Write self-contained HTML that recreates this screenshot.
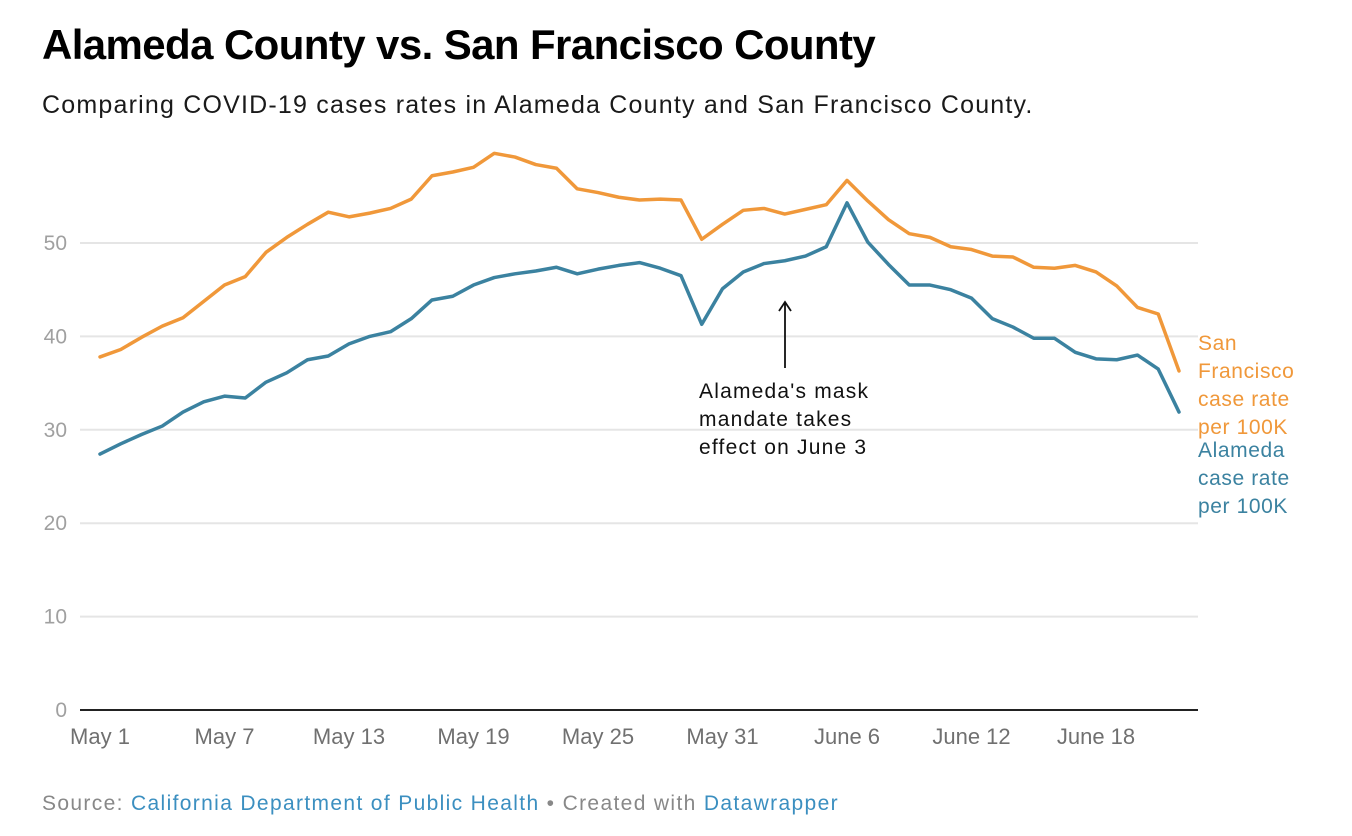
<!DOCTYPE html>
<html><head><meta charset="utf-8"><style>
body{margin:0;background:#fff;width:1352px;height:836px;overflow:hidden;font-family:"Liberation Sans",sans-serif}
.t{position:absolute;left:42px;top:21px;font-size:42px;font-weight:bold;color:#000;letter-spacing:-0.6px}
.s{position:absolute;left:42px;top:91px;font-size:25px;color:#1a1a1a;letter-spacing:1.2px}
.src{position:absolute;left:42px;top:792px;font-size:21px;color:#888;letter-spacing:1.35px}
.src span{color:#3b8fc0}
svg{position:absolute;left:0;top:0}
</style></head><body>
<div class="t">Alameda County vs. San Francisco County</div>
<div class="s">Comparing COVID-19 cases rates in Alameda County and San Francisco County.</div>
<svg id="c" width="1352" height="836"></svg>
<div class="src">Source: <span>California Department of Public Health</span> • Created with <span>Datawrapper</span></div>
<script>
const sfValues=[37.8,38.6,39.9,41.1,42.0,43.75,45.5,46.4,49.0,50.6,52.0,53.3,52.8,53.2,53.7,54.7,57.2,57.6,58.1,59.6,59.2,58.4,58.0,55.8,55.4,54.9,54.6,54.7,54.6,50.4,52.0,53.5,53.7,53.1,53.6,54.1,56.7,54.5,52.5,51.0,50.6,49.6,49.3,48.6,48.5,47.4,47.3,47.6,46.9,45.4,43.1,42.4,36.3];
const alValues=[27.4,28.5,29.5,30.4,31.9,33.0,33.6,33.4,35.1,36.1,37.5,37.9,39.2,40.0,40.5,41.9,43.9,44.3,45.5,46.3,46.7,47.0,47.4,46.7,47.2,47.6,47.9,47.3,46.5,41.3,45.1,46.9,47.8,48.1,48.6,49.6,54.3,50.1,47.7,45.5,45.5,45.0,44.1,41.9,41.0,39.8,39.8,38.3,37.6,37.5,38.0,36.5,31.9];
const yTicks=[0,10,20,30,40,50];
const xTickIdx=[0,6,12,18,24,30,36,42,48];
const xTickLabels=["May 1","May 7","May 13","May 19","May 25","May 31","June 6","June 12","June 18"];
const NS="http://www.w3.org/2000/svg";
const svg=document.getElementById('c');
const x=i=>100+i*20.75;
const y=v=>710-v*9.34;
function mk(tag,attrs,parent){const e=document.createElementNS(NS,tag);for(const k in attrs)e.setAttribute(k,attrs[k]);(parent||svg).appendChild(e);return e;}
yTicks.forEach(t=>{
  if(t>0){const l=mk('line',{x1:80,x2:1198,y1:y(t),y2:y(t),stroke:'#e5e5e5','stroke-width':2});
  
  }
  const tx=mk('text',{x:67,y:y(t)+7,'font-size':21,fill:'#a0a0a0','text-anchor':'end','font-family':'Liberation Sans, sans-serif'});
  tx.textContent=t;
  
  
});
const ax=mk('line',{x1:80,x2:1198,y1:710,y2:710,stroke:'#222','stroke-width':2});


xTickIdx.forEach((d,k)=>{
  const tx=mk('text',{x:x(d),y:744,'font-size':22,fill:'#707070','text-anchor':'middle','font-family':'Liberation Sans, sans-serif'});
  tx.textContent=xTickLabels[k];
  
  
});
function line(vals,col,name){
  const p=mk('polyline',{points:vals.map((v,i)=>x(i)+','+y(v)).join(' '),fill:'none',stroke:col,'stroke-width':3.5,'stroke-linejoin':'round','stroke-linecap':'round'});
  
  
}
line(sfValues,'#f0983a','sf-line');
line(alValues,'#3b82a0','alameda-line');
const ar=mk('path',{d:'M785 368 V302 M779 311 L785 302 L791 311',stroke:'#111','stroke-width':1.8,fill:'none'});


function lbl(lines,x0,y0,col,name,ls){
  const t=mk('text',{x:x0,y:y0,'font-size':21,fill:col,'letter-spacing':ls,'font-family':'Liberation Sans, sans-serif'});
  
  
  lines.forEach((s,i)=>{const ts=mk('tspan',{x:x0,dy:i?28:0},t);ts.textContent=s;});
}
lbl(["Alameda's mask","mandate takes","effect on June 3"],699,398,'#111','annotation-text',1.2);
lbl(["San","Francisco","case rate","per 100K"],1198,350,'#f0983a','sf-label',0.6);
lbl(["Alameda","case rate","per 100K"],1198,457,'#3b82a0','alameda-label',0.6);
</script>
</body></html>
